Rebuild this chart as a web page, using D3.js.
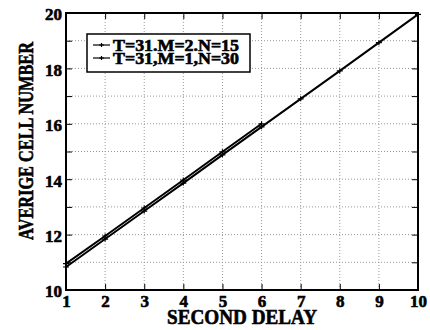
<!DOCTYPE html>
<html>
<head>
<meta charset="utf-8">
<script src="https://cdn.jsdelivr.net/npm/d3@7"></script>
<style>
body{margin:0;background:#fff;}
svg text{font-family:"Liberation Serif","Times New Roman",serif;font-weight:bold;fill:#000;stroke:#000;stroke-width:0.6px;}
</style>
</head>
<body>
<div id="chart"></div>
<script>
/*	Chart data ----------------------------------------------------------------*/
var delayA = [1, 2, 3, 4, 5, 6];
var cellsA = [10.95, 11.95, 12.96, 13.97, 14.99, 16.0];
var delayB = [1, 2, 3, 4, 5, 6, 7, 8, 9, 10];
var cellsB = [10.83, 11.84, 12.85, 13.86, 14.88, 15.89, 16.9, 17.91, 18.93, 19.95];
var seriesNames = ["T=31.M=2.N=15", "T=31,M=1,N=30"];
var xTicks = [1, 2, 3, 4, 5, 6, 7, 8, 9, 10];
var yTicks = [10, 12, 14, 16, 18, 20];
var yMinor = [10, 11, 12, 13, 14, 15, 16, 17, 18, 19, 20];

var width = 430, height = 330;
var padding = {left: 66, right: 12, top: 13, bottom: 40};
var serif = "'Liberation Serif','Times New Roman',serif";

var svg = d3.select("#chart").append("svg")
	.attr("width", width)
	.attr("height", height);

var xScale = d3.scaleLinear().domain([1, 10]).range([padding.left, width - padding.right]);
var yScale = d3.scaleLinear().domain([10, 20]).range([height - padding.bottom, padding.top]);

/*	Grid lines ----------------------------------------------------------------*/
svg.append("g").selectAll("line.vgrid")
	.data(xTicks)
	.enter().append("line")
	.attr("x1", function(d){ return xScale(d); })
	.attr("x2", function(d){ return xScale(d); })
	.attr("y1", yScale(10))
	.attr("y2", yScale(20))
	.style("stroke", "#999")
	.style("stroke-width", "1")
	.style("stroke-dasharray", "1,2");
svg.append("g").selectAll("line.hgrid")
	.data(yMinor)
	.enter().append("line")
	.attr("x1", xScale(1))
	.attr("x2", xScale(10))
	.attr("y1", function(d){ return yScale(d); })
	.attr("y2", function(d){ return yScale(d); })
	.style("stroke", "#999")
	.style("stroke-width", "1")
	.style("stroke-dasharray", "1,2");

/*	Axes with inward ticks on all four sides -----------------------------------*/
var xAxis = d3.axisBottom(xScale).tickValues(xTicks).tickSize(-6).tickPadding(5).tickFormat(d3.format("d"));
var xAxisTop = d3.axisTop(xScale).tickValues(xTicks).tickSize(-6).tickFormat("");
var yAxis = d3.axisLeft(yScale).tickValues(yMinor).tickSize(-6).tickPadding(4)
	.tickFormat(function(d){ return yTicks.indexOf(d) >= 0 ? d : ""; });
var yAxisRight = d3.axisRight(yScale).tickValues(yMinor).tickSize(-6).tickFormat("");

var gx = svg.append("g").attr("transform", "translate(0," + yScale(10) + ")").call(xAxis);
svg.append("g").attr("transform", "translate(0," + yScale(20) + ")").call(xAxisTop);
var gy = svg.append("g").attr("transform", "translate(" + xScale(1) + ",0)").call(yAxis);
svg.append("g").attr("transform", "translate(" + xScale(10) + ",0)").call(yAxisRight);

svg.selectAll(".domain").remove();
svg.selectAll("g.tick line").style("stroke", "#000").style("stroke-width", "1");
svg.selectAll("g.tick text")
	.style("font-family", serif)
	.style("font-weight", "bold")
	.style("font-size", "17px");
gy.selectAll("g.tick text").attr("dy", "0.4em");

/*	Plot frame ----------------------------------------------------------------*/
svg.append("rect")
	.attr("x", xScale(1))
	.attr("y", yScale(20))
	.attr("width", xScale(10) - xScale(1))
	.attr("height", yScale(10) - yScale(20))
	.style("fill", "none")
	.style("stroke", "#000")
	.style("stroke-width", "2");

/*	Series lines --------------------------------------------------------------*/
var lineGen = d3.line()
	.x(function(d){ return xScale(d[0]); })
	.y(function(d){ return yScale(d[1]); });

var addSeries = function(xs, ys, sw) {
	var pts = xs.map(function(d, i){ return [d, ys[i]]; });
	svg.append("path")
		.datum(pts)
		.attr("d", lineGen)
		.style("fill", "none")
		.style("stroke", "#000")
		.style("stroke-width", sw);
	svg.append("g").selectAll("path.mark")
		.data(pts)
		.enter().append("path")
		.attr("d", function(d){
			var x = xScale(d[0]), y = yScale(d[1]);
			return "M" + (x - 3) + "," + y + "H" + (x + 3) + "M" + x + "," + (y - 2.5) + "V" + (y + 2.5);
		})
		.style("stroke", "#000")
		.style("stroke-width", "1.2");
};
addSeries(delayB, cellsB, "2");
addSeries(delayA, cellsA, "2");

/*	Legend --------------------------------------------------------------------*/
var legend = svg.append("g").attr("transform", "translate(87,34)");
legend.append("rect")
	.attr("width", 163)
	.attr("height", 38)
	.style("fill", "#fff")
	.style("stroke", "#000")
	.style("stroke-width", "1.5");
seriesNames.forEach(function(name, i){
	var y = 11 + i * 13;
	legend.append("line")
		.attr("x1", 6).attr("x2", 23)
		.attr("y1", y).attr("y2", y)
		.style("stroke", "#000").style("stroke-width", "1.2");
	legend.append("path")
		.attr("d", "M12," + y + "H17M14.5," + (y - 2) + "V" + (y + 2))
		.style("stroke", "#000").style("stroke-width", "1.2");
	legend.append("text")
		.attr("x", 26)
		.attr("y", y + 6)
		.attr("textLength", 126)
		.attr("lengthAdjust", "spacingAndGlyphs")
		.style("font-size", "16px")
		.text(name);
});

/*	Axis labels ---------------------------------------------------------------*/
svg.append("text")
	.attr("text-anchor", "middle")
	.attr("x", (xScale(1) + xScale(10)) / 2)
	.attr("y", 324)
	.attr("textLength", 150)
	.attr("lengthAdjust", "spacingAndGlyphs")
	.style("font-size", "20px")
	.text("SECOND DELAY");
svg.append("text")
	.attr("text-anchor", "middle")
	.attr("transform", "translate(33,141)rotate(-90)")
	.attr("textLength", 198)
	.attr("lengthAdjust", "spacingAndGlyphs")
	.style("font-size", "20px")
	.text("AVERIGE CELL NUMBER");
</script>
</body>
</html>
